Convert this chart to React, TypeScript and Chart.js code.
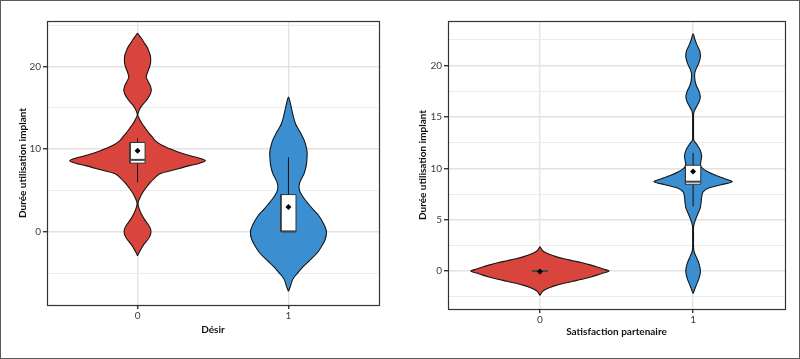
import React, { useEffect, useRef } from 'react';
import { Chart, registerables } from 'chart.js';

Chart.register(...registerables);

// ---------- Panel 1 : Désir ----------
const desirCategories = ['0', '1'];
const desirYMajor = [0, 10, 20];
const desirYMinor = [-5, 5, 15, 25];

// violin profile for Désir = 0 : y values and half widths (category units)
const desir0Y = [-2.9, -2.5, -2, -1.5, -1, -0.5, 0, 0.5, 1, 1.5, 2, 2.5, 3, 3.5, 4, 4.5, 5, 5.5, 6, 6.5, 7, 7.5, 8, 8.3, 8.6, 8.9, 9.2, 9.6, 10, 10.5, 11, 11.5, 12, 12.5, 13, 13.5, 14.1, 14.6, 15.2, 15.7, 16.2, 16.6, 17.1, 17.6, 18.1, 18.7, 19.3, 19.9, 20.4, 20.8, 21.3, 21.8, 22.35, 22.8, 23.3, 23.7, 24];
const desir0W = [0, 0.010, 0.026, 0.043, 0.066, 0.083, 0.089, 0.083, 0.066, 0.046, 0.030, 0.017, 0.007, 0.003, 0.013, 0.026, 0.043, 0.063, 0.086, 0.113, 0.146, 0.245, 0.344, 0.411, 0.450, 0.411, 0.350, 0.278, 0.219, 0.159, 0.119, 0.096, 0.073, 0.053, 0.033, 0.017, 0.002, 0.008, 0.026, 0.050, 0.070, 0.083, 0.091, 0.086, 0.073, 0.058, 0.066, 0.079, 0.086, 0.087, 0.085, 0.076, 0.063, 0.046, 0.030, 0.013, 0];

// violin profile for Désir = 1
const desir1Y = [-7.2, -6.6, -6, -5.5, -5, -4.2, -3.5, -2.6, -2, -1, 0, 1, 2, 2.65, 3.3, 3.9, 4.5, 5, 5.5, 6, 6.5, 7, 8, 9, 9.5, 10, 11, 12, 12.5, 13.1, 13.9, 14.7, 15.5, 15.9, 16.3];
const desir1W = [0, 0.013, 0.023, 0.037, 0.060, 0.099, 0.139, 0.189, 0.212, 0.242, 0.252, 0.232, 0.199, 0.166, 0.136, 0.109, 0.086, 0.073, 0.070, 0.076, 0.089, 0.103, 0.118, 0.123, 0.124, 0.121, 0.106, 0.079, 0.063, 0.046, 0.033, 0.023, 0.013, 0.008, 0];

const desirQ1 = [8.3, 0];
const desirMedian = [8.7, 0.05];
const desirQ3 = [10.8, 4.5];
const desirWhiskerLow = [6, 0];
const desirWhiskerHigh = [11.3, 9];
const desirMean = [9.8, 3.0];

// ---------- Panel 2 : Satisfaction partenaire ----------
const satCategories = ['0', '1'];
const satYMajor = [0, 5, 10, 15, 20];
const satYMinor = [-2.5, 2.5, 7.5, 12.5, 17.5, 22.5];

const sat0Y = [-2.37, -2.2, -2, -1.8, -1.6, -1.4, -1.2, -1, -0.8, -0.6, -0.4, -0.2, 0, 0.2, 0.4, 0.6, 0.8, 1, 1.2, 1.4, 1.6, 1.8, 2, 2.2, 2.37];
const sat0W = [0, 0.007, 0.016, 0.036, 0.065, 0.105, 0.157, 0.216, 0.275, 0.327, 0.373, 0.412, 0.451, 0.412, 0.373, 0.327, 0.275, 0.216, 0.157, 0.105, 0.065, 0.036, 0.016, 0.007, 0];

const sat1Y = [-2.2, -1.8, -1.3, -0.7, 0, 0.7, 1.3, 1.8, 2.3, 3.3, 4.3, 4.6, 5.0, 5.5, 6.1, 6.6, 7.2, 7.7, 8.1, 8.4, 8.7, 9.0, 9.3, 9.7, 10.0, 10.3, 10.7, 11.2, 11.8, 12.3, 12.75, 13.5, 14.5, 15.2, 15.6, 16.1, 16.6, 17.0, 17.5, 18.0, 18.5, 19.2, 19.7, 20.2, 20.7, 21.0, 21.5, 22.0, 22.5, 23.1];
const sat1W = [0, 0.010, 0.023, 0.039, 0.048, 0.039, 0.023, 0.008, 0.003, 0.003, 0.003, 0.007, 0.016, 0.029, 0.046, 0.052, 0.056, 0.065, 0.105, 0.183, 0.255, 0.203, 0.150, 0.092, 0.062, 0.049, 0.051, 0.056, 0.046, 0.026, 0.005, 0.003, 0.003, 0.003, 0.008, 0.026, 0.042, 0.047, 0.039, 0.023, 0.013, 0.010, 0.020, 0.036, 0.046, 0.048, 0.042, 0.026, 0.013, 0];

const satQ1 = [0, 8.45];
const satMedian = [0, 8.7];
const satQ3 = [0, 10.3];
const satWhiskerLow = [0, 6.3];
const satWhiskerHigh = [0, 11.5];
const satMean = [-0.05, 9.7];

const RED = '#d9453c';
const BLUE = '#3b8fd0';
const BOX_HALF = 0.05;

type Pt = { x: number; y: number };

function violinPoints(cat: number, ys: number[], ws: number[]): Pt[] {
  const right = ys.map((y, i) => ({ x: cat + ws[i], y }));
  const left = ys.map((y, i) => ({ x: cat - ws[i], y })).reverse().slice(1);
  return [...right, ...left];
}

const polyFillPlugin = {
  id: 'polyFill',
  beforeDatasetDraw(chart: any, args: any) {
    const ds = chart.data.datasets[args.index];
    if (!ds.polyFill) return;
    const meta = args.meta;
    const line = meta.dataset;
    const ctx = chart.ctx;
    if (line && line.updateControlPoints) line.updateControlPoints(chart.chartArea, 'x');
    const pts = meta.data;
    if (!pts.length) return;
    ctx.save();
    ctx.beginPath();
    ctx.moveTo(pts[0].x, pts[0].y);
    for (let i = 1; i < pts.length; i++) {
      const p = pts[i - 1];
      const q = pts[i];
      if (p.cp2x !== undefined && q.cp1x !== undefined && ds.tension) {
        ctx.bezierCurveTo(p.cp2x, p.cp2y, q.cp1x, q.cp1y, q.x, q.y);
      } else {
        ctx.lineTo(q.x, q.y);
      }
    }
    ctx.closePath();
    ctx.fillStyle = ds.polyFill;
    ctx.fill();
    ctx.restore();
  },
};

const framePlugin = {
  id: 'frame',
  afterDatasetsDraw(chart: any) {
    const { left, right, top, bottom } = chart.chartArea;
    const ctx = chart.ctx;
    ctx.save();
    ctx.strokeStyle = '#333333';
    ctx.lineWidth = 1.2;
    ctx.strokeRect(Math.round(left) + 0.5, Math.round(top) + 0.5, Math.round(right - left), Math.round(bottom - top));
    ctx.restore();
  },
};

interface PanelSpec {
  categories: string[];
  violins: { y: number[]; w: number[]; color: string }[];
  q1: number[];
  median: number[];
  q3: number[];
  wlo: number[];
  whi: number[];
  mean: number[];
  yMajor: number[];
  yMinor: number[];
  yMin: number;
  yMax: number;
  xTitle: string;
  yAxisWidth: number;
  xAxisHeight: number;
  padRight: number;
  xTitlePad: number;
}

function buildConfig(p: PanelSpec): any {
  const datasets: any[] = [];
  p.violins.forEach((v, i) => {
    datasets.push({
      data: violinPoints(i, v.y, v.w),
      borderColor: '#151515',
      borderWidth: 1.1,
      polyFill: v.color,
      fill: false,
      pointRadius: 0,
      tension: 0.3,
      order: 5,
    });
  });
  p.categories.forEach((_, i) => {
    // whiskers
    datasets.push({ data: [{ x: i, y: p.wlo[i] }, { x: i, y: p.q1[i] }], borderColor: '#111', borderWidth: 1, pointRadius: 0, fill: false, order: 4 });
    datasets.push({ data: [{ x: i, y: p.q3[i] }, { x: i, y: p.whi[i] }], borderColor: '#111', borderWidth: 1, pointRadius: 0, fill: false, order: 4 });
    // box
    datasets.push({
      data: [
        { x: i - BOX_HALF, y: p.q1[i] },
        { x: i + BOX_HALF, y: p.q1[i] },
        { x: i + BOX_HALF, y: p.q3[i] },
        { x: i - BOX_HALF, y: p.q3[i] },
        { x: i - BOX_HALF, y: p.q1[i] },
      ],
      polyFill: '#ffffff',
      borderColor: '#333',
      borderWidth: 1,
      pointRadius: 0,
      fill: false,
      tension: 0,
      order: 3,
    });
    // median
    datasets.push({ data: [{ x: i - BOX_HALF, y: p.median[i] }, { x: i + BOX_HALF, y: p.median[i] }], borderColor: '#444', borderWidth: 2, pointRadius: 0, fill: false, order: 2 });
  });
  datasets.push({
    data: p.mean.map((m, i) => ({ x: i, y: m })),
    showLine: false,
    pointStyle: 'rectRot',
    pointRadius: 3,
    pointBackgroundColor: '#000',
    pointBorderWidth: 0,
    order: 1,
  });

  const yTicks = [...p.yMajor, ...p.yMinor].sort((a, b) => a - b);
  const isMajor = (v: number) => p.yMajor.includes(v);
  const tickFont = { family: 'Lato', size: 10 };
  const titleFont = { family: 'Lato', size: 10, weight: 'bold' };

  return {
    type: 'line',
    data: { datasets },
    options: {
      animation: false,
      responsive: false,
      devicePixelRatio: 1,
      parsing: true,
      layout: { padding: { top: 21, right: p.padRight, left: 0, bottom: 0 } },
      plugins: { legend: { display: false }, tooltip: { enabled: false } },
      scales: {
        x: {
          type: 'linear',
          min: -0.6,
          max: 1.6,
          afterBuildTicks: (s: any) => {
            s.ticks = p.categories.map((_, i) => ({ value: i }));
          },
          afterFit: (s: any) => {
            s.height = p.xAxisHeight;
          },
          grid: { color: '#e4e4e4', lineWidth: 1.4, tickLength: 4, tickColor: '#333' },
          border: { display: false },
          ticks: {
            autoSkip: false,
            maxRotation: 0,
            padding: 1,
            color: '#3a3a3a',
            font: tickFont,
            callback: (v: number) => p.categories[v] ?? '',
          },
          title: { display: true, text: p.xTitle, color: '#111', font: titleFont, padding: { top: 0, bottom: p.xTitlePad } },
        },
        y: {
          type: 'linear',
          min: p.yMin,
          max: p.yMax,
          afterBuildTicks: (s: any) => {
            s.ticks = yTicks.map((v) => ({ value: v }));
          },
          afterFit: (s: any) => {
            s.width = p.yAxisWidth;
          },
          grid: {
            color: (c: any) => (c.tick && isMajor(c.tick.value) ? '#e2e2e2' : '#ebebeb'),
            lineWidth: (c: any) => (c.tick && isMajor(c.tick.value) ? 1.4 : 1),
            tickLength: 4,
            tickColor: (c: any) => (c.tick && isMajor(c.tick.value) ? '#333' : 'rgba(0,0,0,0)'),
          },
          border: { display: false },
          ticks: {
            autoSkip: false,
            padding: 2,
            color: '#3a3a3a',
            font: tickFont,
            callback: (v: number) => (isMajor(v) ? String(v) : ''),
          },
          title: { display: true, text: 'Durée utilisation implant', color: '#111', font: titleFont, padding: { top: 17, bottom: 0 } },
        },
      },
    },
    plugins: [polyFillPlugin, framePlugin],
  };
}

const desirSpec: PanelSpec = {
  categories: desirCategories,
  violins: [
    { y: desir0Y, w: desir0W, color: RED },
    { y: desir1Y, w: desir1W, color: BLUE },
  ],
  q1: desirQ1,
  median: desirMedian,
  q3: desirQ3,
  wlo: desirWhiskerLow,
  whi: desirWhiskerHigh,
  mean: desirMean,
  yMajor: desirYMajor,
  yMinor: desirYMinor,
  yMin: -8.86,
  yMax: 25.5,
  xTitle: 'Désir',
  yAxisWidth: 47,
  xAxisHeight: 54,
  padRight: 21,
  xTitlePad: 23,
};

const satSpec: PanelSpec = {
  categories: satCategories,
  violins: [
    { y: sat0Y, w: sat0W, color: RED },
    { y: sat1Y, w: sat1W, color: BLUE },
  ],
  q1: satQ1,
  median: satMedian,
  q3: satQ3,
  wlo: satWhiskerLow,
  whi: satWhiskerHigh,
  mean: satMean,
  yMajor: satYMajor,
  yMinor: satYMinor,
  yMin: -3.7,
  yMax: 24.35,
  xTitle: 'Satisfaction partenaire',
  yAxisWidth: 48,
  xAxisHeight: 50,
  padRight: 15,
  xTitlePad: 21,
};

function Panel({ spec, left }: { spec: PanelSpec; left: number }) {
  const ref = useRef<HTMLCanvasElement | null>(null);
  useEffect(() => {
    if (!ref.current) return;
    const chart = new Chart(ref.current, buildConfig(spec));
    return () => chart.destroy();
  }, [spec]);
  return (
    <canvas
      ref={ref}
      width={400}
      height={359}
      style={{ position: 'absolute', left, top: 0, width: 400, height: 359 }}
    />
  );
}

export default function App() {
  useEffect(() => {
    document.body.style.margin = '0';
  }, []);
  return (
    <div style={{ position: 'relative', width: 800, height: 359, background: '#fff', overflow: 'hidden' }}>
      <Panel spec={desirSpec} left={0} />
      <Panel spec={satSpec} left={400} />
      <div
        style={{
          position: 'absolute',
          left: 0,
          top: 0,
          width: 800,
          height: 359,
          boxSizing: 'border-box',
          border: '1px solid #5a5a5a',
          pointerEvents: 'none',
        }}
      />
    </div>
  );
}
